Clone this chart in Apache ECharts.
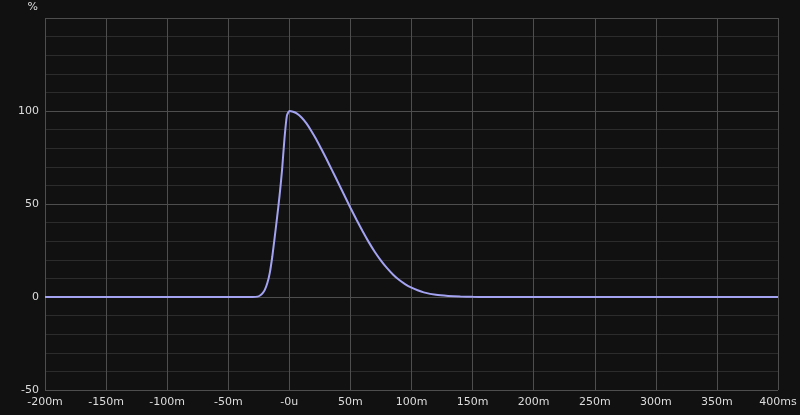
<!DOCTYPE html>
<html>
<head>
<meta charset="utf-8">
<script src="https://cdn.jsdelivr.net/npm/echarts@6/dist/echarts.min.js"></script>
<style>
html,body{margin:0;padding:0;background:#111111;}
#chart{width:800px;height:415px;}
</style>
</head>
<body>
<div id="chart"></div>
<script>
// time in ms, response in %
var timeMs = [-200, -30, -26, -24, -22, -20, -18, -16, -14, -12, -10, -8, -6, -4, -2, 0,
	3, 6, 10, 14, 18, 22, 26, 30, 35, 40, 45, 50, 55, 60, 65, 70, 75, 80, 85, 90, 95,
	100, 105, 110, 120, 130, 140, 150, 160, 400];
var percent = [0, 0, 0.2, 0.8, 2, 4, 7.5, 13, 21.5, 32, 43, 54.5, 68, 85, 97.5, 100,
	99.6, 98.7, 96.5, 93.3, 89.3, 84.8, 79.8, 74.7, 68.1, 61.4, 54.7, 48, 41.5, 35.3, 29.5, 24.2, 19.6, 15.5, 12, 9.1, 6.8,
	5, 3.6, 2.5, 1.2, 0.6, 0.25, 0.1, 0, 0];
var xTicks = [-200, -150, -100, -50, 0, 50, 100, 150, 200, 250, 300, 350, 400];
var xTickLabels = ['-200m', '-150m', '-100m', '-50m', '-0u', '50m', '100m', '150m', '200m', '250m', '300m', '350m', '400ms'];

var points = [];
for (var i = 0; i < timeMs.length; i++) {
	points.push([timeMs[i], percent[i]]);
}

var chart = echarts.init(document.getElementById('chart'));
chart.setOption({
	backgroundColor: '#111111',
	animation: false,
	textStyle: {fontFamily: 'DejaVu Sans'},
	grid: {left: 45, right: 22, top: 18, bottom: 25},
	xAxis: {
		type: 'value',
		min: -200,
		max: 400,
		interval: 50,
		axisLine: {show: false, onZero: false},
		axisTick: {show: false},
		axisLabel: {
			color: '#dddddd',
			fontSize: 11,
			margin: 7,
			formatter: function (v) {
				var k = xTicks.indexOf(v);
				return k >= 0 ? xTickLabels[k] : '';
			}
		},
		splitLine: {show: true, lineStyle: {color: '#4e4e4e', width: 1}}
	},
	yAxis: {
		type: 'value',
		min: -50,
		max: 150,
		interval: 50,
		name: '%',
		nameLocation: 'end',
		nameGap: 5,
		nameTextStyle: {color: '#dddddd', fontSize: 11, align: 'right', padding: [0, 7, 0, 0]},
		axisLine: {show: false, onZero: false},
		axisTick: {show: false},
		axisLabel: {color: '#dddddd', fontSize: 11, margin: 6, showMaxLabel: false},
		splitLine: {show: true, lineStyle: {color: '#4e4e4e', width: 1}},
		minorTick: {show: false, splitNumber: 5},
		minorSplitLine: {show: true, lineStyle: {color: '#2c2c2c', width: 1}}
	},
	series: [{
		type: 'line',
		data: points,
		smooth: 0.2,
		showSymbol: false,
		lineStyle: {color: '#a3a3f2', width: 2},
		itemStyle: {color: '#a3a3f2'}
	}]
});
</script>
</body>
</html>
